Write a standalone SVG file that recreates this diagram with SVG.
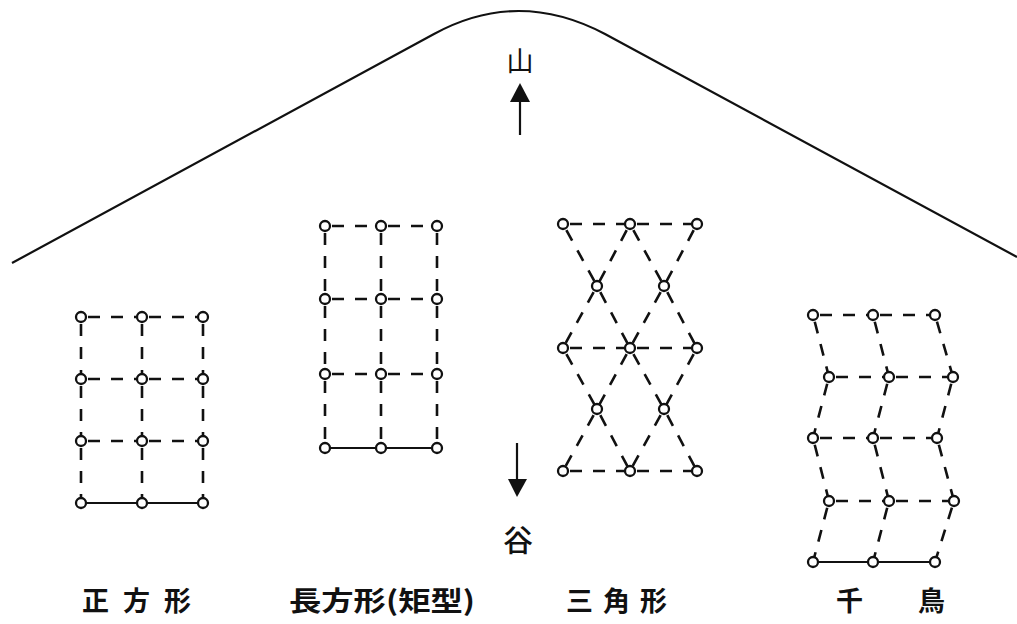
<svg xmlns="http://www.w3.org/2000/svg" width="1017" height="624" viewBox="0 0 1017 624">
<style>
.d{stroke:#111;stroke-width:2.6;fill:none;stroke-dasharray:12 11;stroke-dashoffset:-7}
.s{stroke:#111;stroke-width:2.2;fill:none}
.n{fill:#fff;stroke:#111;stroke-width:2.3}
.t{font-family:"Noto Sans CJK JP","Noto Sans CJK SC",sans-serif;fill:#111}
.lb{font-size:27px;font-weight:700}
</style>
<rect width="1017" height="624" fill="#fff"/>
<g id="mountain">
<path class="s" d="M12,263 L434,34 Q518,-12 605,34 L1017,257" stroke-width="2.4"/>
</g>
<g id="arrows">
<line x1="520" y1="135" x2="520" y2="100" class="s" stroke-width="3"/>
<path d="M510,102 L520,83 L530,102 Z" fill="#111"/>
<line x1="517" y1="443" x2="517" y2="482" class="s" stroke-width="3"/>
<path d="M508,479 L517,497 L527,479 Z" fill="#111"/>
<text class="t" x="520" y="71" font-size="27" text-anchor="middle">山</text>
<text class="t" x="518" y="551" font-size="30" font-weight="500" text-anchor="middle">谷</text>
</g>
<g id="square">
<g class="connectors">
<line class="d" x1="81" y1="317" x2="142" y2="317"/><line class="d" x1="142" y1="317" x2="203" y2="317"/>
<line class="d" x1="81" y1="379" x2="142" y2="379"/><line class="d" x1="142" y1="379" x2="203" y2="379"/>
<line class="d" x1="81" y1="441" x2="142" y2="441"/><line class="d" x1="142" y1="441" x2="203" y2="441"/>
<line class="s" x1="81" y1="503" x2="203" y2="503"/>
<line class="d" x1="81" y1="317" x2="81" y2="379"/><line class="d" x1="81" y1="379" x2="81" y2="441"/><line class="d" x1="81" y1="441" x2="81" y2="503"/>
<line class="d" x1="142" y1="317" x2="142" y2="379"/><line class="d" x1="142" y1="379" x2="142" y2="441"/><line class="d" x1="142" y1="441" x2="142" y2="503"/>
<line class="d" x1="203" y1="317" x2="203" y2="379"/><line class="d" x1="203" y1="379" x2="203" y2="441"/><line class="d" x1="203" y1="441" x2="203" y2="503"/>
</g>
<circle class="n" cx="81" cy="317" r="5"/><circle class="n" cx="142" cy="317" r="5"/><circle class="n" cx="203" cy="317" r="5"/>
<circle class="n" cx="81" cy="379" r="5"/><circle class="n" cx="142" cy="379" r="5"/><circle class="n" cx="203" cy="379" r="5"/>
<circle class="n" cx="81" cy="441" r="5"/><circle class="n" cx="142" cy="441" r="5"/><circle class="n" cx="203" cy="441" r="5"/>
<circle class="n" cx="81" cy="503" r="5"/><circle class="n" cx="142" cy="503" r="5"/><circle class="n" cx="203" cy="503" r="5"/>
<text class="t lb" x="82" y="611" letter-spacing="14">正方形</text>
</g>
<g id="rectangle">
<g class="connectors">
<line class="d" x1="325" y1="226" x2="381" y2="226"/><line class="d" x1="381" y1="226" x2="437" y2="226"/>
<line class="d" x1="325" y1="299" x2="381" y2="299"/><line class="d" x1="381" y1="299" x2="437" y2="299"/>
<line class="d" x1="325" y1="374" x2="381" y2="374"/><line class="d" x1="381" y1="374" x2="437" y2="374"/>
<line class="s" x1="325" y1="448" x2="437" y2="448"/>
<line class="d" x1="325" y1="226" x2="325" y2="299"/><line class="d" x1="325" y1="299" x2="325" y2="374"/><line class="d" x1="325" y1="374" x2="325" y2="448"/>
<line class="d" x1="381" y1="226" x2="381" y2="299"/><line class="d" x1="381" y1="299" x2="381" y2="374"/><line class="d" x1="381" y1="374" x2="381" y2="448"/>
<line class="d" x1="437" y1="226" x2="437" y2="299"/><line class="d" x1="437" y1="299" x2="437" y2="374"/><line class="d" x1="437" y1="374" x2="437" y2="448"/>
</g>
<circle class="n" cx="325" cy="226" r="5"/><circle class="n" cx="381" cy="226" r="5"/><circle class="n" cx="437" cy="226" r="5"/>
<circle class="n" cx="325" cy="299" r="5"/><circle class="n" cx="381" cy="299" r="5"/><circle class="n" cx="437" cy="299" r="5"/>
<circle class="n" cx="325" cy="374" r="5"/><circle class="n" cx="381" cy="374" r="5"/><circle class="n" cx="437" cy="374" r="5"/>
<circle class="n" cx="325" cy="448" r="5"/><circle class="n" cx="381" cy="448" r="5"/><circle class="n" cx="437" cy="448" r="5"/>
<text class="t lb" x="289" y="611" textLength="186" lengthAdjust="spacingAndGlyphs">長方形(矩型)</text>
</g>
<g id="triangle">
<g class="connectors">
<line class="d" x1="563" y1="224" x2="630" y2="224"/><line class="d" x1="630" y1="224" x2="697" y2="224"/>
<line class="d" x1="563" y1="348" x2="630" y2="348"/><line class="d" x1="630" y1="348" x2="697" y2="348"/>
<line class="d" x1="563" y1="471" x2="630" y2="471"/><line class="d" x1="630" y1="471" x2="697" y2="471"/>
<line class="d" x1="563" y1="224" x2="597" y2="286"/><line class="d" x1="597" y1="286" x2="630" y2="348"/><line class="d" x1="630" y1="348" x2="664" y2="409"/><line class="d" x1="664" y1="409" x2="697" y2="471"/>
<line class="d" x1="697" y1="224" x2="664" y2="286"/><line class="d" x1="664" y1="286" x2="630" y2="348"/><line class="d" x1="630" y1="348" x2="597" y2="409"/><line class="d" x1="597" y1="409" x2="563" y2="471"/>
<line class="d" x1="630" y1="224" x2="597" y2="286"/><line class="d" x1="597" y1="286" x2="563" y2="348"/><line class="d" x1="563" y1="348" x2="597" y2="409"/><line class="d" x1="597" y1="409" x2="630" y2="471"/>
<line class="d" x1="630" y1="224" x2="664" y2="286"/><line class="d" x1="664" y1="286" x2="697" y2="348"/><line class="d" x1="697" y1="348" x2="664" y2="409"/><line class="d" x1="664" y1="409" x2="630" y2="471"/>
</g>
<circle class="n" cx="563" cy="224" r="5"/><circle class="n" cx="630" cy="224" r="5"/><circle class="n" cx="697" cy="224" r="5"/>
<circle class="n" cx="597" cy="286" r="5"/><circle class="n" cx="664" cy="286" r="5"/>
<circle class="n" cx="563" cy="348" r="5"/><circle class="n" cx="630" cy="348" r="5"/><circle class="n" cx="697" cy="348" r="5"/>
<circle class="n" cx="597" cy="409" r="5"/><circle class="n" cx="664" cy="409" r="5"/>
<circle class="n" cx="563" cy="471" r="5"/><circle class="n" cx="630" cy="471" r="5"/><circle class="n" cx="697" cy="471" r="5"/>
<text class="t lb" x="566" y="611" letter-spacing="10">三角形</text>
</g>
<g id="chidori">
<g class="connectors">
<line class="d" x1="813" y1="315" x2="873" y2="315"/><line class="d" x1="873" y1="315" x2="935" y2="315"/>
<line class="d" x1="829" y1="377" x2="889" y2="377"/><line class="d" x1="889" y1="377" x2="953" y2="377"/>
<line class="d" x1="813" y1="438" x2="873" y2="438"/><line class="d" x1="873" y1="438" x2="937" y2="438"/>
<line class="d" x1="829" y1="501" x2="889" y2="501"/><line class="d" x1="889" y1="501" x2="954" y2="501"/>
<line class="s" x1="813" y1="562" x2="935" y2="562"/>
<line class="d" x1="813" y1="315" x2="829" y2="377"/><line class="d" x1="829" y1="377" x2="813" y2="438"/><line class="d" x1="813" y1="438" x2="829" y2="501"/><line class="d" x1="829" y1="501" x2="813" y2="562"/>
<line class="d" x1="873" y1="315" x2="889" y2="377"/><line class="d" x1="889" y1="377" x2="873" y2="438"/><line class="d" x1="873" y1="438" x2="889" y2="501"/><line class="d" x1="889" y1="501" x2="873" y2="562"/>
<line class="d" x1="935" y1="315" x2="953" y2="377"/><line class="d" x1="953" y1="377" x2="937" y2="438"/><line class="d" x1="937" y1="438" x2="954" y2="501"/><line class="d" x1="954" y1="501" x2="935" y2="562"/>
</g>
<circle class="n" cx="813" cy="315" r="5"/><circle class="n" cx="873" cy="315" r="5"/><circle class="n" cx="935" cy="315" r="5"/>
<circle class="n" cx="829" cy="377" r="5"/><circle class="n" cx="889" cy="377" r="5"/><circle class="n" cx="953" cy="377" r="5"/>
<circle class="n" cx="813" cy="438" r="5"/><circle class="n" cx="873" cy="438" r="5"/><circle class="n" cx="937" cy="438" r="5"/>
<circle class="n" cx="829" cy="501" r="5"/><circle class="n" cx="889" cy="501" r="5"/><circle class="n" cx="954" cy="501" r="5"/>
<circle class="n" cx="813" cy="562" r="5"/><circle class="n" cx="873" cy="562" r="5"/><circle class="n" cx="935" cy="562" r="5"/>
<text class="t lb" x="836" y="611" letter-spacing="55">千鳥</text>
</g>
</svg>
